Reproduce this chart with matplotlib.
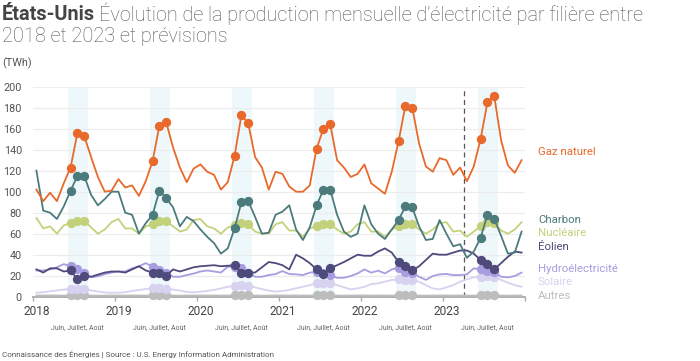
import matplotlib
matplotlib.use("Agg")
import matplotlib.pyplot as plt
import matplotlib.transforms as mtransforms
import numpy as np

plt.rcParams['font.family'] = ['Roboto', 'DejaVu Sans']

years = ["2018", "2019", "2020", "2021", "2022", "2023"]
band_label = "Juin, Juillet, Août"

# production mensuelle (TWh), janv. 2018 -> déc. 2023
gaz = [102, 91, 99, 91, 108, 123, 156, 153, 133, 114, 100, 101,
       112, 104, 106, 96, 110, 129, 163, 166, 142, 123, 109, 122,
       126, 119, 116, 102, 109, 134, 173, 165, 133, 123, 102, 119,
       117, 105, 100, 100, 106, 141, 160, 164, 130, 123, 114, 117,
       126, 108, 103, 98, 119, 148, 182, 180, 146, 124, 119, 132,
       130, 116, 123, 110, 124, 150, 185, 191, 149, 125, 118, 130]
charbon = [120, 82, 80, 74, 86, 101, 115, 115, 97, 87, 93, 100,
           100, 80, 78, 60, 70, 78, 101, 94, 85, 67, 76, 72,
           64, 57, 51, 41, 46, 65, 90, 91, 76, 60, 61, 78,
           81, 87, 64, 54, 66, 87, 102, 102, 78, 62, 57, 60,
           87, 69, 60, 55, 64, 73, 86, 85, 67, 54, 55, 73,
           60, 48, 50, 37, 43, 56, 78, 74, 58, 41, 42, 62]
nucleaire = [75, 65, 67, 60, 68, 70, 72, 72, 66, 60, 64, 71,
             74, 65, 65, 60, 67, 69, 72, 72, 67, 62, 64, 73,
             74, 67, 65, 60, 66, 68, 70, 69, 62, 60, 60, 69,
             71, 63, 63, 57, 65, 67, 69, 69, 64, 60, 62, 69,
             71, 62, 62, 57, 64, 67, 69, 69, 64, 60, 64, 70,
             71, 62, 63, 57, 62, 67, 71, 70, 63, 60, 64, 71]
eolien = [26, 23, 27, 27, 24, 25, 16.5, 20, 19, 21, 23, 24,
          24, 23, 26, 29, 25, 23, 23, 20, 26, 24, 26, 28,
          29, 29.5, 30, 29, 29.5, 30, 23, 23, 23, 28, 33, 32,
          30, 26, 40, 36.5, 32, 26, 22, 27, 30, 33, 36.5, 40,
          39, 39, 43, 46, 42, 33, 29, 25, 29, 35, 41, 40,
          40, 42, 44, 44, 41, 35, 31, 26, 32, 38, 43, 42]
hydro = [25, 25, 26, 28, 31, 29, 26, 23, 18.5, 19.5, 21.5, 23,
         24, 24, 27, 29, 32, 28.6, 25.4, 23, 19, 19, 20.6, 22,
         24, 25, 24, 23, 28.6, 28, 27, 23, 19, 19, 20.6, 21.6,
         24.4, 21.6, 21.3, 20.6, 22.9, 23.8, 22.9, 20.6, 18, 18, 19.7, 22.2,
         26, 22.9, 24.8, 22.2, 26, 27.6, 23.8, 22.9, 19, 16, 19.7, 21.3,
         21.6, 20.6, 20.6, 21.3, 27, 26, 24.8, 23.8, 19, 18.4, 19.7, 22.9]
solaire = [3.8, 4.2, 5.2, 6.0, 6.8, 7.3, 7.3, 7.0, 6.0, 5.0, 4.0, 3.8,
           3.8, 4.3, 5.5, 6.3, 7.3, 7.9, 8.3, 7.6, 6.8, 5.8, 4.6, 4.1,
           4.8, 5.5, 6.5, 7.9, 9.5, 10.2, 10.8, 10.2, 8.9, 7.3, 5.8, 4.8,
           5.4, 6.5, 8.0, 9.5, 11, 12.7, 13.3, 12.7, 11, 8.9, 7.0, 7.9,
           9.5, 12, 12.7, 14.3, 15.9, 16.5, 15.9, 15.9, 14.3, 11, 7.9, 7.0,
           8.9, 11, 14.3, 16.5, 18.4, 19, 19.7, 19, 15.9, 13.3, 11, 9.5]
autres = [1.2, 1.1, 1.2, 1.1, 1.1, 1.2, 1.2, 1.2, 1.1, 1.0, 1.1, 1.2,
          1.2, 1.1, 1.2, 1.1, 1.1, 1.2, 1.2, 1.2, 1.1, 1.0, 1.1, 1.2,
          1.2, 1.1, 1.2, 1.1, 1.1, 1.2, 1.2, 1.2, 1.1, 1.0, 1.1, 1.2,
          1.2, 1.1, 1.2, 1.1, 1.1, 1.2, 1.2, 1.2, 1.1, 1.0, 1.1, 1.2,
          1.2, 1.1, 1.2, 1.1, 1.1, 1.2, 1.2, 1.2, 1.1, 1.0, 1.1, 1.2,
          1.2, 1.1, 1.2, 1.1, 1.1, 1.2, 1.2, 1.2, 1.1, 1.0, 1.1, 1.2]

series = [
    ("Autres", autres, "#bdbdbd", 0.7),
    ("Solaire", solaire, "#d6d2f0", 14),
    ("Hydroélectricité", hydro, "#a79de0", 26.4),
    ("Éolien", eolien, "#4e4a7c", 47.3),
    ("Nucléaire", nucleaire, "#c3d27a", 60.7),
    ("Charbon", charbon, "#4b7b7d", 73),
    ("Gaz naturel", gaz, "#e8692b", 137.8),
]

x = np.arange(len(gaz))
summer = [i for i in x if i % 12 in (5, 6, 7)]

fig = plt.figure(figsize=(7, 3.61), dpi=100)
fig.set_facecolor("white")
ax = fig.add_axes([33 / 700, 1 - 296.7 / 361, 492 / 700, 210 / 361])

for k in range(len(years)):
    ax.axvspan(12 * k + 4.6, 12 * k + 7.55, color="#eef8fb", lw=0, zorder=0)
    ax.text(12 * k + 6, -0.149, band_label, transform=mtransforms.blended_transform_factory(ax.transData, ax.transAxes),
            ha="center", va="center", fontsize=5, color="#666666")

for name, vals, col, ylab in series:
    ax.plot(x, vals, color=col, lw=1.3, zorder=3, clip_on=False,
            marker="o", markersize=5.7, markevery=summer)
    ax.text(73.4, ylab, name, color=col, fontsize=8.2, va="center", ha="left", clip_on=False)

ax.axvline(62.55, color="#555555", lw=0.9, ls=(0, (4, 3)), zorder=2)

ax.set_xlim(-0.5, 71.5)
ax.set_ylim(0, 200)
ax.set_yticks(range(0, 201, 20))
ax.tick_params(axis="y", length=0, pad=8, labelsize=7.8, labelcolor="#555555")
ax.grid(axis="y", color="#ececec", lw=0.8)
ax.set_axisbelow(True)
ax.set_xticks([12 * k - 0.5 for k in range(7)])
ax.set_xticklabels([])
ax.set_xticks([12 * k for k in range(6)], minor=True)
ax.set_xticklabels(years, minor=True)
ax.tick_params(axis="x", which="major", length=3, color="#aaaaaa", width=1)
ax.tick_params(axis="x", which="minor", length=0, pad=6, labelsize=8.6, labelcolor="#444444")
for s in ["left", "right", "top"]:
    ax.spines[s].set_visible(False)
ax.spines["bottom"].set_color("#aaaaaa")
ax.spines["bottom"].set_linewidth(1.3)
ax.spines["bottom"].set_zorder(2.5)

# titre
t1 = fig.text(0.003, 1 - 14 / 361, "États-Unis", fontsize=14.3, fontweight="bold", color="#444444", va="center")
r = fig.canvas.get_renderer()
bb = t1.get_window_extent(r)
fig.text(bb.x1 / 700 + 0.006, 1 - 14 / 361, "Évolution de la production mensuelle d’électricité par filière entre",
         fontsize=14.3, fontweight="light", color="#555555", va="center")
fig.text(0.003, 1 - 37 / 361, "2018 et 2023 et prévisions", fontsize=14.3, fontweight="light", color="#555555", va="center")
fig.text(0.003, 1 - 63 / 361, "(TWh)", fontsize=7.8, color="#555555", va="center")
fig.text(0.003, 1 - 355 / 361, "Connaissance des Énergies | Source : U.S. Energy Information Administration",
         fontsize=5.8, color="#555555", va="center")

fig.savefig("out.png", dpi=100)
